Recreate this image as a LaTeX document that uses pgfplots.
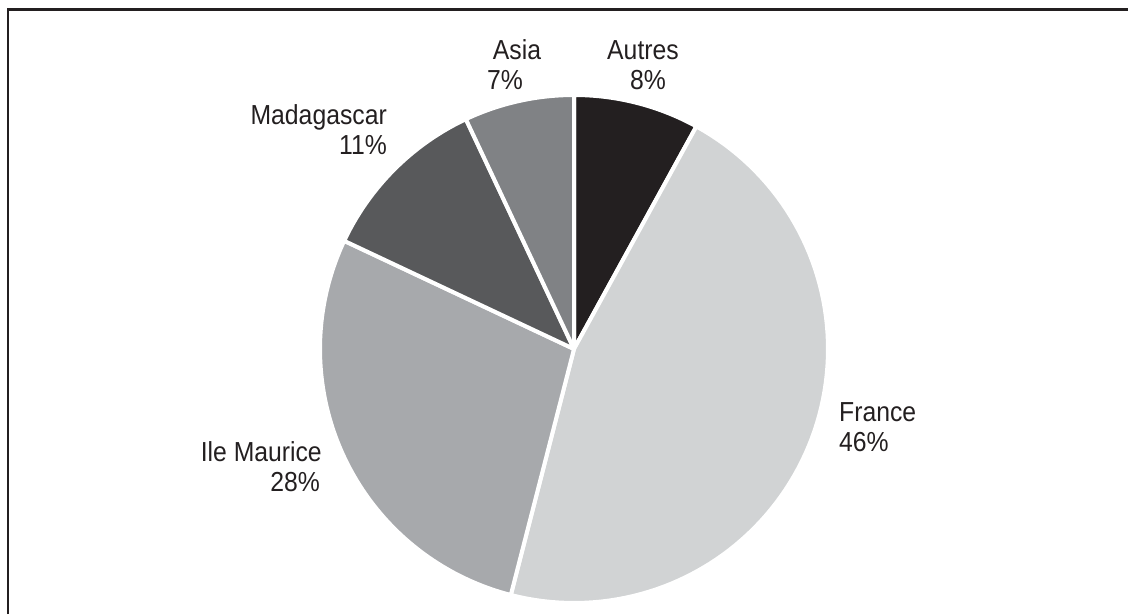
\documentclass[border=0pt]{standalone}
\usepackage{fontspec}
\setmainfont{Liberation Sans}[FakeStretch=0.9]
\usepackage{pgfplots}
\usepackage{pgfplotstable}
\pgfplotsset{compat=1.18}
\definecolor{cAutres}{HTML}{231F20}
\definecolor{cFrance}{HTML}{D1D3D4}
\definecolor{cMaurice}{HTML}{A7A9AC}
\definecolor{cMada}{HTML}{58595B}
\definecolor{cAsia}{HTML}{808285}
\definecolor{txt}{HTML}{231F20}

\pgfplotstableread{
label value
Autres 8
France 46
IleMaurice 28
Madagascar 11
Asia 7
}\piedata

\pgfplotstablegetelem{0}{value}\of\piedata \let\vA\pgfplotsretval
\pgfplotstablegetelem{1}{value}\of\piedata \let\vB\pgfplotsretval
\pgfplotstablegetelem{2}{value}\of\piedata \let\vC\pgfplotsretval
\pgfplotstablegetelem{3}{value}\of\piedata \let\vD\pgfplotsretval
\pgfplotstablegetelem{4}{value}\of\piedata \let\vE\pgfplotsretval
\pgfmathsetmacro\aA{90-3.6*\vA}
\pgfmathsetmacro\aB{\aA-3.6*\vB}
\pgfmathsetmacro\aC{\aB-3.6*\vC}
\pgfmathsetmacro\aD{\aC-3.6*\vD}
\pgfmathsetmacro\aE{\aD-3.6*\vE}

\def\cx{574}
\def\cy{265}
\def\R{254}

\begin{document}
\begin{tikzpicture}
\path[use as bounding box] (0,0) rectangle (1128pt,614pt);
\begin{axis}[scale only axis, width=1128pt, height=614pt,
  xmin=0, xmax=1128, ymin=0, ymax=614, hide axis, clip=false,
  every axis plot/.append style={draw=white, line width=4pt, line join=round, samples=90}]
\addplot[fill=cAutres, domain=\aA:90] ({\cx+\R*cos(x)},{\cy+\R*sin(x)}) -- (axis cs:\cx,\cy) -- cycle;
\addplot[fill=cFrance, domain=\aB:\aA] ({\cx+\R*cos(x)},{\cy+\R*sin(x)}) -- (axis cs:\cx,\cy) -- cycle;
\addplot[fill=cMaurice, domain=\aC:\aB] ({\cx+\R*cos(x)},{\cy+\R*sin(x)}) -- (axis cs:\cx,\cy) -- cycle;
\addplot[fill=cMada, domain=\aD:\aC] ({\cx+\R*cos(x)},{\cy+\R*sin(x)}) -- (axis cs:\cx,\cy) -- cycle;
\addplot[fill=cAsia, domain=\aE:\aD] ({\cx+\R*cos(x)},{\cy+\R*sin(x)}) -- (axis cs:\cx,\cy) -- cycle;

\draw[txt, line width=2.5pt] (axis cs:8,0) -- (axis cs:8,604.5) -- (axis cs:1128,604.5);

\begin{scope}[every node/.style={inner sep=0pt, text=txt, font=\fontsize{27.5}{30}\selectfont}]
\node[anchor=base] at (axis cs:517,554) {Asia};
\node[anchor=base] at (axis cs:505,524) {7\%};
\node[anchor=base] at (axis cs:643,554) {Autres};
\node[anchor=base] at (axis cs:648,524) {8\%};
\node[anchor=base east] at (axis cs:387,489) {Madagascar};
\node[anchor=base east] at (axis cs:387,459) {11\%};
\node[anchor=base east] at (axis cs:322,153) {Ile Maurice};
\node[anchor=base east] at (axis cs:320,123) {28\%};
\node[anchor=base west] at (axis cs:839,193) {France};
\node[anchor=base west] at (axis cs:839,162) {46\%};
\end{scope}
\end{axis}
\end{tikzpicture}
\end{document}
